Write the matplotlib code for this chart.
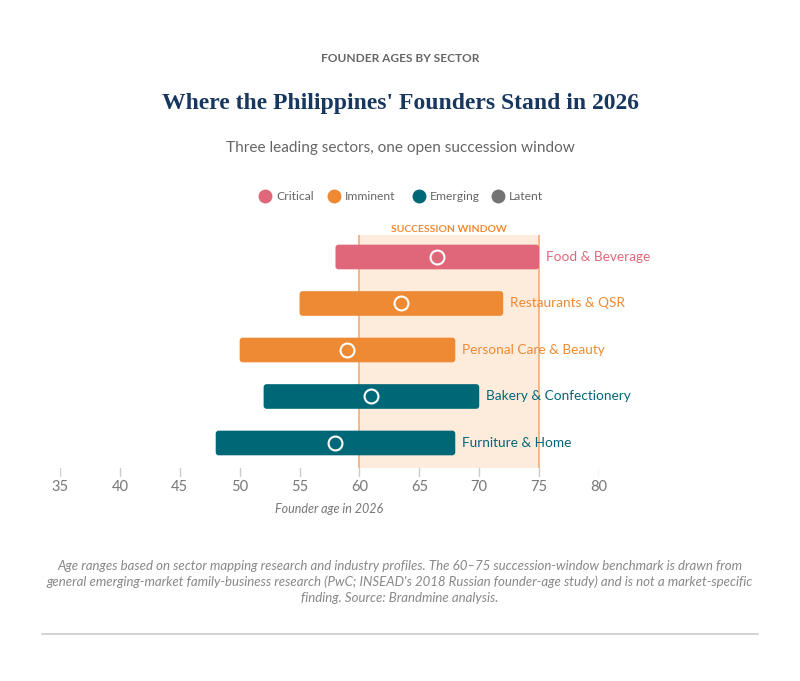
import matplotlib
matplotlib.use("Agg")
import matplotlib.pyplot as plt
from matplotlib.patches import FancyBboxPatch
from matplotlib.lines import Line2D

sectors = ["Food & Beverage", "Restaurants & QSR", "Personal Care & Beauty",
           "Bakery & Confectionery", "Furniture & Home"]
age_low = [58, 55, 50, 52, 48]
age_high = [75, 72, 68, 70, 68]
age_median = [66.5, 63.5, 59, 61, 58]
tiers = ["Critical", "Imminent", "Imminent", "Emerging", "Emerging"]
legend_tiers = ["Critical", "Imminent", "Emerging", "Latent"]
tier_colors = {"Critical": "#e0677a", "Imminent": "#ee8a33",
               "Emerging": "#006776", "Latent": "#737373"}
window = (60, 75)
xticks = [35, 40, 45, 50, 55, 60, 65, 70, 75, 80]

W, H = 800, 681
fig = plt.figure(figsize=(8, 6.81), dpi=100)
fig.patch.set_facecolor("white")

def fx(px):
    return px / W

def fy(py):
    return 1 - py / H

SANS = ["Lato", "DejaVu Sans"]

# axes: x 35..80 maps to px 60..599; y top px 235 .. bottom px 468
ax = fig.add_axes([fx(60), fy(468), fx(599) - fx(60), (468 - 235) / H])
ax.set_xlim(35, 80)
ax.set_ylim(4.538, -0.473)
ax.axis("off")

# succession window
ax.axvspan(window[0], window[1], color="#fdebdc", zorder=0, lw=0)
for v in window:
    ax.axvline(v, color="#f2a66b", lw=1.1, zorder=1)

xunit = 539 / 45.0
yunit = 46.5
bar_h = 0.53
for i, (lo, hi, med, t, name) in enumerate(zip(age_low, age_high, age_median, tiers, sectors)):
    c = tier_colors[t]
    p = FancyBboxPatch((lo, i - bar_h / 2), hi - lo, bar_h,
                       boxstyle="round,pad=0,rounding_size=0.25",
                       mutation_aspect=xunit / yunit,
                       fc=c, ec="none", zorder=3)
    ax.add_patch(p)
    ax.plot(med, i, marker="o", ms=10, mfc="none", mec="white", mew=1.5, zorder=4)
    ax.text(hi + 0.55, i, name, color=c, fontsize=9.8, family=SANS,
            va="center", ha="left", zorder=5)

ax.text(sum(window) / 2, -0.5, "SUCCESSION WINDOW", color="#ee8a33",
        fontsize=7.5, fontweight="bold", family=SANS, ha="center", va="bottom")

# ticks (drawn below the axes)
ax2 = fig.add_axes([fx(60), fy(477), fx(599) - fx(60), 9 / H])
ax2.set_xlim(35, 80)
ax2.set_ylim(0, 1)
ax2.axis("off")
for t in xticks:
    ax2.plot([t, t], [0, 1], color="#cccccc", lw=1)
    ax2.text(t, -1.1, str(t), ha="center", va="center", fontsize=10.5,
             color="#777777", family=SANS)
ax2.text(57.5, -3.55, "Founder age in 2026", ha="center", va="center",
         fontsize=9, color="#777777", style="italic", family=SANS)

# titles
fig.text(0.5, fy(59), "FOUNDER AGES BY SECTOR", ha="center", va="center",
         fontsize=8.6, fontweight="bold", color="#666666", family=SANS)
fig.text(0.5, fy(103), "Where the Philippines' Founders Stand in 2026", ha="center",
         va="center", fontsize=17, fontweight="bold", color="#17375e",
         family=["Liberation Serif", "DejaVu Serif"])
fig.text(0.5, fy(148), "Three leading sectors, one open succession window",
         ha="center", va="center", fontsize=11.1, color="#666666", family=SANS)

# legend
leg_x = [265, 334, 419, 498]
for x, t in zip(leg_x, legend_tiers):
    fig.add_artist(Line2D([fx(x)], [fy(196)], marker="o", ms=9, color=tier_colors[t],
                          transform=fig.transFigure))
    fig.text(fx(x + 11), fy(196), t, ha="left", va="center", fontsize=8.7,
             color="#666666", family=SANS)

# footnote
foot = ("Age ranges based on sector mapping research and industry profiles. The 60\u201375 succession-window benchmark is drawn from\n"
        "general emerging-market family-business research (PwC; INSEAD's 2018 Russian founder-age study) and is not a market-specific\n"
        "finding. Source: Brandmine analysis.")
fig.text(0.5, fy(582), foot, ha="center", va="center", fontsize=9.55, color="#888888",
         style="italic", family=SANS, linespacing=1.35)

fig.add_artist(Line2D([fx(42), fx(758)], [fy(634), fy(634)], color="#cccccc", lw=1.2,
                      transform=fig.transFigure))

fig.savefig("out.png", dpi=100, facecolor="white")
